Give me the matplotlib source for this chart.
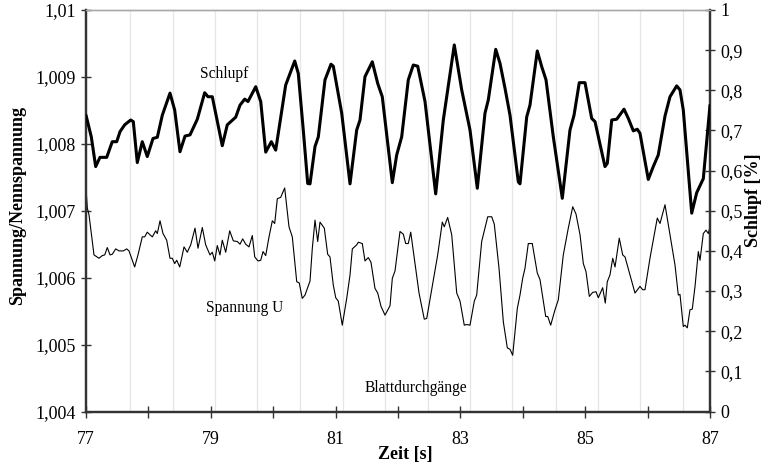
import matplotlib
matplotlib.use("Agg")
import matplotlib.pyplot as plt

plt.rcParams["font.family"] = ["Liberation Serif", "DejaVu Serif"]

# Schlupf [%] (right axis)
schlupf_t = [
    77.000, 77.085, 77.155, 77.224, 77.332, 77.421, 77.492, 77.545, 77.620, 77.716,
    77.758, 77.822, 77.902, 77.982, 78.074, 78.143, 78.223, 78.346, 78.421, 78.506,
    78.587, 78.667, 78.784, 78.902, 78.955, 79.024, 79.184, 79.264, 79.399, 79.468,
    79.543, 79.596, 79.720, 79.800, 79.880, 79.970, 80.040, 80.200, 80.345, 80.402,
    80.482, 80.553, 80.590, 80.670, 80.723, 80.830, 80.926, 80.963, 81.098, 81.231,
    81.338, 81.391, 81.471, 81.588, 81.675, 81.748, 81.909, 81.979, 82.059, 82.165,
    82.245, 82.316, 82.433, 82.604, 82.726, 82.902, 83.021, 83.154, 83.271, 83.394,
    83.447, 83.566, 83.635, 83.715, 83.795, 83.928, 83.955, 84.063, 84.115, 84.232,
    84.303, 84.372, 84.489, 84.633, 84.756, 84.821, 84.905, 84.997, 85.104, 85.157,
    85.317, 85.354, 85.425, 85.505, 85.622, 85.691, 85.771, 85.835, 85.878, 86.011,
    86.091, 86.171, 86.279, 86.359, 86.466, 86.519, 86.572, 86.707, 86.787, 86.893,
    87.000,
]
schlupf = [
    0.738, 0.684, 0.610, 0.633, 0.633, 0.672, 0.672, 0.697, 0.714, 0.726,
    0.722, 0.620, 0.672, 0.635, 0.680, 0.683, 0.738, 0.793, 0.751, 0.647,
    0.686, 0.689, 0.728, 0.794, 0.784, 0.784, 0.662, 0.714, 0.733, 0.763,
    0.778, 0.772, 0.809, 0.772, 0.646, 0.672, 0.651, 0.813, 0.873, 0.842,
    0.701, 0.568, 0.567, 0.660, 0.684, 0.826, 0.865, 0.860, 0.743, 0.567,
    0.701, 0.726, 0.834, 0.871, 0.817, 0.784, 0.570, 0.639, 0.684, 0.826,
    0.863, 0.860, 0.772, 0.542, 0.726, 0.913, 0.801, 0.701, 0.556, 0.743,
    0.776, 0.902, 0.867, 0.805, 0.738, 0.572, 0.567, 0.734, 0.763, 0.898,
    0.859, 0.826, 0.684, 0.531, 0.701, 0.738, 0.819, 0.819, 0.730, 0.722,
    0.610, 0.618, 0.726, 0.728, 0.753, 0.730, 0.699, 0.703, 0.693, 0.578,
    0.610, 0.639, 0.736, 0.784, 0.811, 0.801, 0.751, 0.494, 0.545, 0.580,
    0.763,
]

# Spannung/Nennspannung (left axis)
spannung_t = [
    77.000, 77.021, 77.048, 77.128, 77.208, 77.261, 77.300, 77.341, 77.385, 77.421,
    77.476, 77.529, 77.598, 77.652, 77.689, 77.780, 77.833, 77.902, 77.941, 77.982,
    78.026, 78.063, 78.117, 78.143, 78.186, 78.234, 78.293, 78.346, 78.383, 78.421,
    78.454, 78.502, 78.571, 78.623, 78.678, 78.747, 78.795, 78.864, 78.918, 78.987,
    79.024, 79.063, 79.104, 79.147, 79.184, 79.239, 79.303, 79.361, 79.425, 79.468,
    79.511, 79.559, 79.612, 79.665, 79.704, 79.756, 79.800, 79.837, 79.880, 79.933,
    79.986, 80.024, 80.066, 80.120, 80.184, 80.253, 80.306, 80.377, 80.418, 80.466,
    80.510, 80.590, 80.627, 80.670, 80.713, 80.750, 80.819, 80.873, 80.910, 80.963,
    81.002, 81.043, 81.107, 81.178, 81.231, 81.268, 81.338, 81.364, 81.428, 81.471,
    81.524, 81.567, 81.631, 81.675, 81.728, 81.792, 81.872, 81.909, 81.952, 82.032,
    82.085, 82.123, 82.165, 82.204, 82.261, 82.337, 82.421, 82.460, 82.540, 82.636,
    82.710, 82.742, 82.796, 82.861, 82.941, 82.994, 83.062, 83.101, 83.154, 83.223,
    83.261, 83.341, 83.438, 83.502, 83.543, 83.619, 83.688, 83.752, 83.795, 83.838,
    83.912, 83.955, 83.998, 84.035, 84.088, 84.152, 84.232, 84.276, 84.367, 84.399,
    84.447, 84.516, 84.569, 84.649, 84.729, 84.800, 84.853, 84.917, 84.970, 85.013,
    85.066, 85.120, 85.173, 85.210, 85.280, 85.322, 85.354, 85.397, 85.441, 85.478,
    85.546, 85.601, 85.638, 85.718, 85.798, 85.878, 85.921, 85.958, 86.038, 86.155,
    86.199, 86.279, 86.359, 86.439, 86.492, 86.519, 86.572, 86.599, 86.636, 86.679,
    86.716, 86.760, 86.813, 86.840, 86.893, 86.936, 86.973, 87.000,
]
spannung = [
    1.00734, 1.00704, 1.00694, 1.00634, 1.00629, 1.00633, 1.00634, 1.00645, 1.00634, 1.00635,
    1.00643, 1.00640, 1.00640, 1.00643, 1.00640, 1.00616, 1.00634, 1.00661, 1.00661, 1.00668,
    1.00664, 1.00661, 1.00670, 1.00666, 1.00685, 1.00666, 1.00656, 1.00629, 1.00629, 1.00621,
    1.00626, 1.00616, 1.00646, 1.00638, 1.00649, 1.00674, 1.00644, 1.00675, 1.00649, 1.00634,
    1.00638, 1.00625, 1.00648, 1.00634, 1.00656, 1.00638, 1.00670, 1.00655, 1.00654, 1.00650,
    1.00658, 1.00650, 1.00646, 1.00663, 1.00631, 1.00625, 1.00626, 1.00639, 1.00633, 1.00661,
    1.00685, 1.00681, 1.00718, 1.00720, 1.00734, 1.00676, 1.00661, 1.00594, 1.00592, 1.00569,
    1.00574, 1.00595, 1.00644, 1.00686, 1.00654, 1.00683, 1.00674, 1.00635, 1.00631, 1.00589,
    1.00570, 1.00565, 1.00529, 1.00569, 1.00604, 1.00643, 1.00649, 1.00653, 1.00651, 1.00625,
    1.00630, 1.00623, 1.00584, 1.00577, 1.00557, 1.00544, 1.00558, 1.00599, 1.00610, 1.00669,
    1.00665, 1.00651, 1.00651, 1.00668, 1.00629, 1.00577, 1.00538, 1.00539, 1.00582, 1.00634,
    1.00683, 1.00676, 1.00690, 1.00664, 1.00577, 1.00565, 1.00529, 1.00530, 1.00529, 1.00565,
    1.00574, 1.00654, 1.00691, 1.00691, 1.00680, 1.00614, 1.00534, 1.00495, 1.00493, 1.00484,
    1.00554, 1.00574, 1.00599, 1.00614, 1.00651, 1.00651, 1.00607, 1.00597, 1.00542, 1.00542,
    1.00529, 1.00552, 1.00567, 1.00634, 1.00674, 1.00706, 1.00695, 1.00664, 1.00621, 1.00609,
    1.00572, 1.00578, 1.00579, 1.00570, 1.00585, 1.00562, 1.00594, 1.00604, 1.00629, 1.00616,
    1.00659, 1.00634, 1.00631, 1.00604, 1.00577, 1.00587, 1.00582, 1.00582, 1.00629, 1.00689,
    1.00681, 1.00709, 1.00664, 1.00619, 1.00574, 1.00575, 1.00527, 1.00529, 1.00525, 1.00552,
    1.00553, 1.00587, 1.00639, 1.00626, 1.00666, 1.00671, 1.00666, 1.00676,
]

# Blattdurchgaenge (blade passages) [s]
blade_times = [77.705, 78.389, 79.067, 79.748, 80.429, 81.114, 81.792,
               82.476, 83.154, 83.832, 84.527, 85.200, 85.883, 86.563]

x_ticks = list(range(77, 88))
x_labels = ["77", "", "79", "", "81", "", "83", "", "85", "", "87"]
left_ticks = [1.004, 1.005, 1.006, 1.007, 1.008, 1.009, 1.010]
left_labels = ["1,004", "1,005", "1,006", "1,007", "1,008", "1,009", "1,01"]
right_ticks = [0, 0.1, 0.2, 0.3, 0.4, 0.5, 0.6, 0.7, 0.8, 0.9, 1.0]
right_labels = ["0", "0,1", "0,2", "0,3", "0,4", "0,5", "0,6", "0,7", "0,8", "0,9", "1"]

dark = "#333333"

fig = plt.figure(figsize=(7.65, 4.65), dpi=100)
ax = fig.add_axes([86 / 765, 53.5 / 465, 624 / 765, 401.5 / 465])
ax2 = ax.twinx()

for t in blade_times:
    ax.axvline(t, color="#e6e6e6", lw=0.9, zorder=0)

ax.plot(spannung_t, spannung, color="black", lw=0.8, zorder=3,
        solid_joinstyle="round")
ax2.plot(schlupf_t, schlupf, color="black", lw=2.2, zorder=3,
         solid_joinstyle="round", solid_capstyle="round")

ax.set_xlim(77, 87)
ax.set_ylim(1.004, 1.010)
ax2.set_ylim(0, 1)

ax.set_xticks(x_ticks, x_labels)
ax.set_yticks(left_ticks, left_labels)
ax2.set_yticks(right_ticks, right_labels)

ax.tick_params(axis="x", direction="inout", length=8, width=1, color=dark,
               labelsize=13, pad=10)
ax.tick_params(axis="y", direction="inout", length=7, width=1, color=dark,
               labelsize=13, pad=4)
ax2.tick_params(axis="y", direction="inout", length=7, width=1, color=dark,
                labelsize=13, pad=4)

for a in (ax, ax2):
    a.spines["top"].set_color("#aaaaaa")
    a.spines["top"].set_linewidth(1)
    for s in ("left", "bottom", "right"):
        a.spines[s].set_color(dark)
        a.spines[s].set_linewidth(1.6)

ax.text(78.83, 1.00904, "Schlupf", fontsize=11.2, ha="left", va="center")
ax.text(78.93, 1.00555, "Spannung U", fontsize=11.2, ha="left", va="center")
ax.text(81.47, 1.00435, "Blattdurchgänge", fontsize=11.2, ha="left", va="center")

fig.text(405 / 765, 1 - 454 / 465, "Zeit [s]", fontsize=13, fontweight="bold",
         ha="center", va="center")
fig.text(18 / 765, 1 - 205 / 465, "Spannung/Nennspannung", fontsize=13,
         fontweight="bold", rotation=90, ha="center", va="center")
fig.text(753 / 765, 1 - 200 / 465, "Schlupf [%]", fontsize=13,
         fontweight="bold", rotation=90, ha="center", va="center")

fig.savefig("out.png", dpi=100)
